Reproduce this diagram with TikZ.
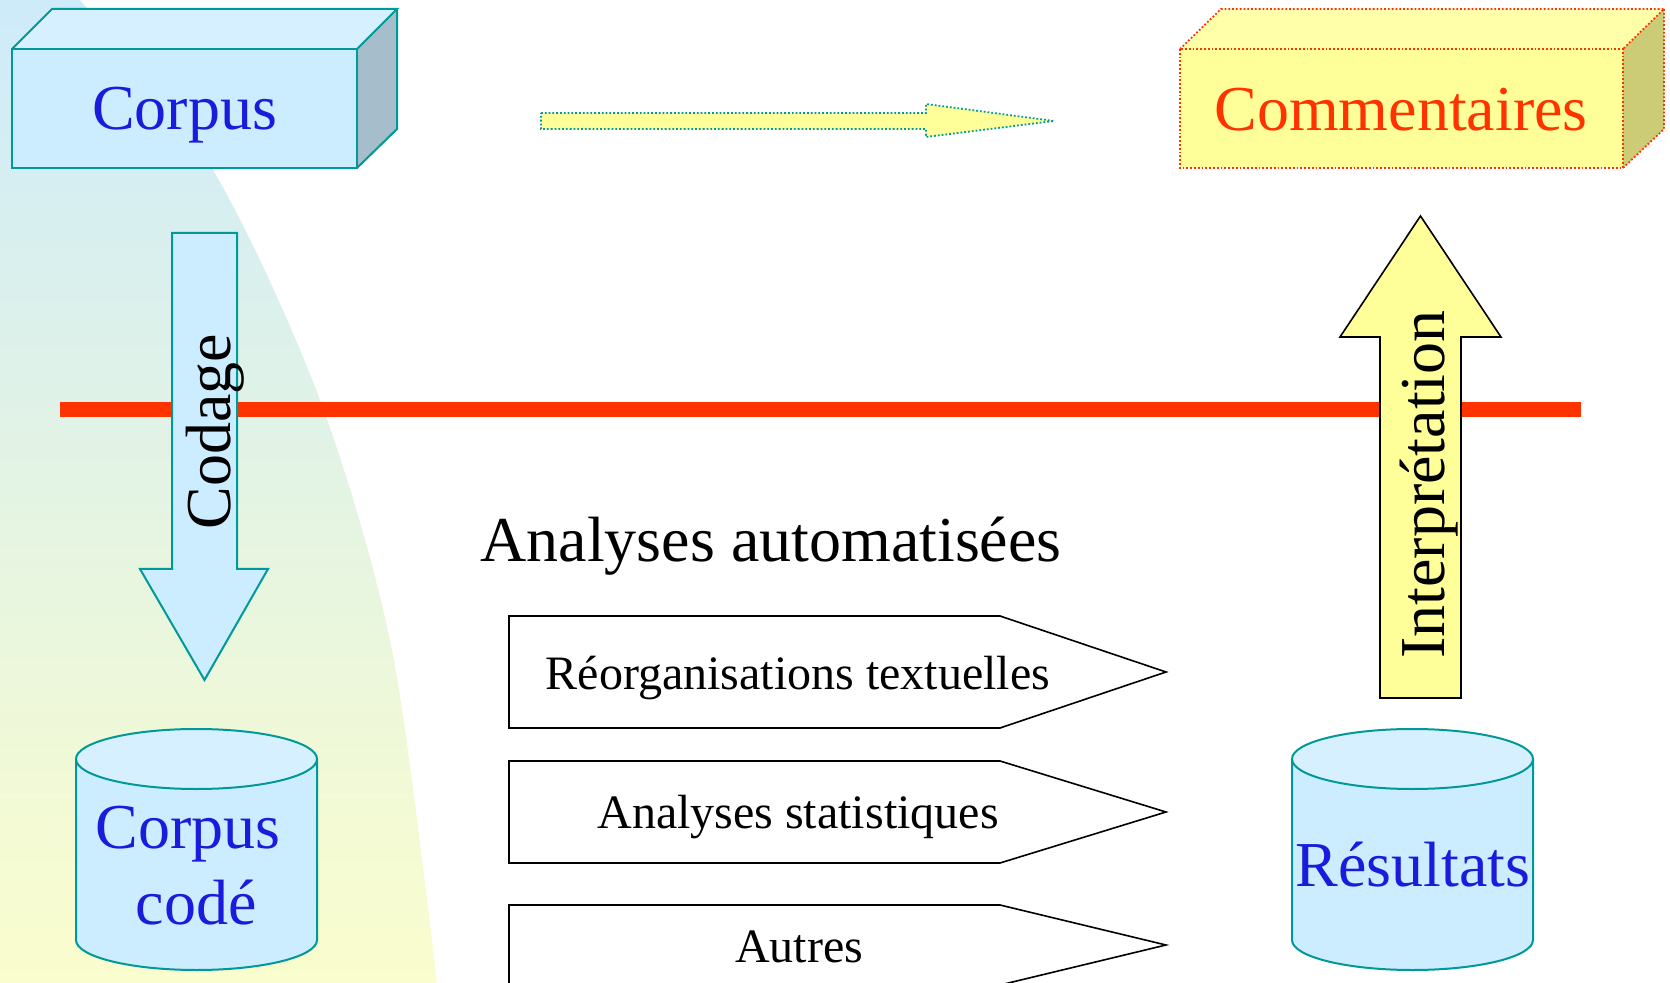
\documentclass[tikz,border=0pt]{standalone}
\usepackage{fontspec}
\setmainfont{Liberation Serif}
\definecolor{bgtop}{RGB}{206,235,250}
\definecolor{bgbot}{RGB}{250,253,205}
\definecolor{cfront}{RGB}{204,236,255}
\definecolor{ctop}{RGB}{215,240,255}
\definecolor{cside}{RGB}{166,189,203}
\definecolor{teal}{RGB}{0,153,153}
\definecolor{tblue}{RGB}{27,27,220}
\definecolor{redc}{RGB}{255,51,0}
\definecolor{yfront}{RGB}{255,255,153}
\definecolor{ytop}{RGB}{255,255,170}
\definecolor{yside}{RGB}{204,204,119}
\begin{document}
\begin{tikzpicture}[x=0.5pt,y=-0.5pt,
  big/.style={font=\fontsize{32}{38}\selectfont, inner sep=0pt},
  mid/.style={font=\fontsize{24}{28}\selectfont, inner sep=0pt},
  tealline/.style={draw=teal, line width=1pt, line join=miter},
  blackline/.style={draw=black, line width=0.8pt, line join=miter},
  dotteal/.style={draw=teal, line width=0.9pt, densely dotted},
  dotred/.style={draw=redc, line width=0.9pt, densely dotted}]
\useasboundingbox (0,0) rectangle (1670,983);
% background
\shade[top color=bgtop, bottom color=bgbot]
  (0,0) -- plot[smooth] coordinates {(80,0) (213,170) (320,400) (392,650) (437,983)} -- (0,983) -- cycle;
% red line
\draw[redc, line width=7.5pt] (60,409.5) -- (1581,409.5);
% Corpus box
\fill[cfront] (12,49) rectangle (357,168);
\fill[ctop] (12,49) -- (52,9) -- (397,9) -- (357,49) -- cycle;
\fill[cside] (357,49) -- (397,9) -- (397,129) -- (357,168) -- cycle;
\draw[tealline] (12,49) rectangle (357,168);
\draw[tealline] (12,49) -- (52,9) -- (397,9) -- (357,49);
\draw[tealline] (397,9) -- (397,129) -- (357,168);
\node[big, text=tblue, anchor=base] (corpus) at (184.5,130) {Corpus};
% Commentaires box
\fill[yfront] (1180,49) rectangle (1623,168);
\fill[ytop] (1180,49) -- (1221,9) -- (1664,9) -- (1623,49) -- cycle;
\fill[yside] (1623,49) -- (1664,9) -- (1664,129) -- (1623,168) -- cycle;
\draw[dotred] (1180,49) rectangle (1623,168);
\draw[dotred] (1180,49) -- (1221,9) -- (1664,9) -- (1623,49);
\draw[dotred] (1664,9) -- (1664,129) -- (1623,168);
\node[big, text=redc, anchor=base] (comm) at (1401,131) {Commentaires};
% top arrow
\filldraw[fill=yfront, dotteal] (541,113) -- (926,113) -- (926,104) -- (1054,121) -- (926,137) -- (926,129) -- (541,129) -- cycle;
% Codage arrow
\filldraw[fill=cfront, tealline] (172,233) -- (237,233) -- (237,569) -- (268,569) -- (204.5,680) -- (140,569) -- (172,569) -- cycle;
\node[big, rotate=90, anchor=base] (codage) at (230,431.5) {Codage};
% Interpretation arrow
\filldraw[fill=yfront, blackline] (1380,698) -- (1380,337) -- (1340,337) -- (1420.5,216) -- (1501,337) -- (1461,337) -- (1461,698) -- cycle;
\node[big, rotate=90, anchor=base] (interp) at (1444,484.5) {Interprétation};
% cylinders
\filldraw[fill=cfront, tealline] (76,759) -- (76,940) arc[start angle=180, end angle=0, x radius=120.5, y radius=30] -- (317,759);
\filldraw[fill=ctop, tealline] (196.5,759) ellipse[x radius=120.5, y radius=30];
\node[big, text=tblue, anchor=base] (cc1) at (188,848) {Corpus};
\node[big, text=tblue, anchor=base] (cc2) at (196,924) {codé};
\filldraw[fill=cfront, tealline] (1292,759) -- (1292,940) arc[start angle=180, end angle=0, x radius=120.5, y radius=30] -- (1533,759);
\filldraw[fill=ctop, tealline] (1412.5,759) ellipse[x radius=120.5, y radius=30];
\node[big, text=tblue, anchor=base] (res) at (1413,886) {Résultats};
% heading
\node[big, anchor=base] (analyses) at (771,562) {Analyses automatisées};
% pentagons
\filldraw[fill=white, blackline] (509,616) -- (1000,616) -- (1166,672) -- (1000,728) -- (509,728) -- cycle;
\filldraw[fill=white, blackline] (509,761) -- (1000,761) -- (1166,812) -- (1000,863) -- (509,863) -- cycle;
\filldraw[fill=white, blackline] (509,905) -- (1000,905) -- (1166,945) -- (1000,985) -- (509,985) -- cycle;
\node[mid, anchor=base] (p1) at (798,689) {Réorganisations textuelles};
\node[mid, anchor=base] (p2) at (798,828) {Analyses statistiques};
\node[mid, anchor=base] (p3) at (799,962) {Autres};
\end{tikzpicture}
\end{document}
